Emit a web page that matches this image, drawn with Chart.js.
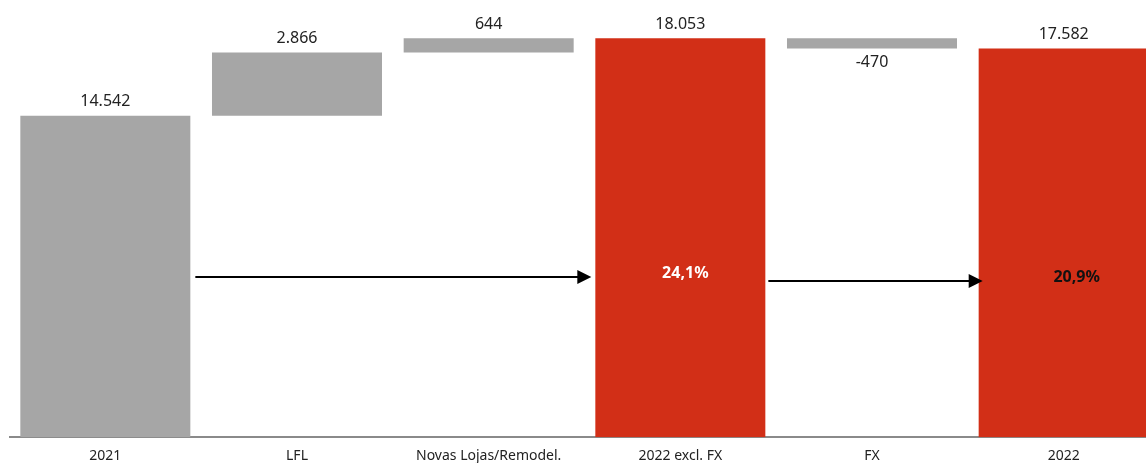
<!DOCTYPE html>
<html>
<head>
<meta charset="utf-8">
<script src="https://cdn.jsdelivr.net/npm/chart.js@4.4.0/dist/chart.umd.min.js"></script>
<style>
  html, body { margin: 0; padding: 0; background: #fff; overflow: hidden; }
  #wrap { width: 1160px; height: 474px; position: relative; }
</style>
</head>
<body>
<div id="wrap"><canvas id="waterfall"></canvas></div>
<script>
// Categories and values (thousands, pt-PT formatting)
const categories = ["2021", "LFL", "Novas Lojas/Remodel.", "2022 excl. FX", "FX", "2022"];
const starts = [0, 14542, 17408, 0, 18053, 0];
const ends = [14542, 17408, 18052, 18053, 17583, 17582];
const valueLabels = ["14.542", "2.866", "644", "18.053", "-470", "17.582"];

// growth arrows: from bar -> to bar, at value level, with label
const arrowFrom = [0, 3];
const arrowTo = [3, 5];
const arrowLevel = [7250, 7068];
const growthLabels = ["24,1%", "20,9%"];
const growthColors = ["#ffffff", "#111111"];

const GRAY = "#a6a6a6";
const RED = "#d22f17";

const barColors = categories.map((c, i) => (i === 3 || i === 5) ? RED : GRAY);

// Value labels above (or below for negatives) + arrows
const overlayPlugin = {
  id: "overlay",
  afterDatasetsDraw(chart) {
    const ctx = chart.ctx;
    const meta = chart.getDatasetMeta(0);
    const y = chart.scales.y;

    ctx.save();
    ctx.font = "16px 'Noto Sans'";
    ctx.fillStyle = "#222";
    ctx.textAlign = "center";
    ctx.textBaseline = "middle";
    meta.data.forEach((bar, i) => {
      const top = y.getPixelForValue(Math.max(starts[i], ends[i]));
      const bottom = y.getPixelForValue(Math.min(starts[i], ends[i]));
      if (ends[i] < starts[i]) {
        ctx.fillText(valueLabels[i], bar.x, bottom + 14);
      } else {
        ctx.fillText(valueLabels[i], bar.x, top - 14);
      }
    });

    // arrows (second one runs a little into the last bar, as in the source)
    ctx.strokeStyle = "#000";
    ctx.fillStyle = "#000";
    ctx.lineWidth = 2;
    arrowFrom.forEach((f, k) => {
      const a = meta.data[f];
      const b = meta.data[arrowTo[k]];
      const x0 = a.x + a.width / 2 + (k === 0 ? 5 : 3);
      const x1 = b.x - b.width / 2 + (k === 0 ? -4 : 4);
      const ay = Math.round(y.getPixelForValue(arrowLevel[k]));
      ctx.beginPath();
      ctx.moveTo(x0, ay);
      ctx.lineTo(x1 - 12, ay);
      ctx.stroke();
      ctx.beginPath();
      ctx.moveTo(x1, ay);
      ctx.lineTo(x1 - 14, ay - 7);
      ctx.lineTo(x1 - 14, ay + 7);
      ctx.closePath();
      ctx.fill();
    });

    // growth labels inside target bars
    ctx.font = "bold 16px 'Noto Sans'";
    growthLabels.forEach((t, k) => {
      const b = meta.data[arrowTo[k]];
      const cx = b.x + (k === 0 ? 5 : 13);
      ctx.fillStyle = growthColors[k];
      ctx.fillText(t, cx, y.getPixelForValue(arrowLevel[k]) - 4);
    });
    ctx.restore();
  }
};

new Chart(document.getElementById("waterfall"), {
  type: "bar",
  data: {
    labels: categories,
    datasets: [{
      data: categories.map((c, i) => [starts[i], ends[i]]),
      backgroundColor: barColors,
      borderWidth: 0,
      barPercentage: 1,
      categoryPercentage: 0.887
    }]
  },
  options: {
    responsive: true,
    maintainAspectRatio: false,
    animation: false,
    layout: { padding: { left: 9.5, right: 0.5, top: 0, bottom: 0 } },
    plugins: {
      legend: { display: false },
      tooltip: { enabled: false }
    },
    scales: {
      x: {
        grid: { display: false, drawTicks: false },
        border: { display: true, color: "#8a8a8a", width: 2 },
        ticks: {
          color: "#222",
          font: { family: "'Noto Sans'", size: 14 },
          padding: 10
        }
      },
      y: {
        display: false,
        min: 0,
        max: 19780
      }
    }
  },
  plugins: [overlayPlugin]
});
</script>
</body>
</html>
